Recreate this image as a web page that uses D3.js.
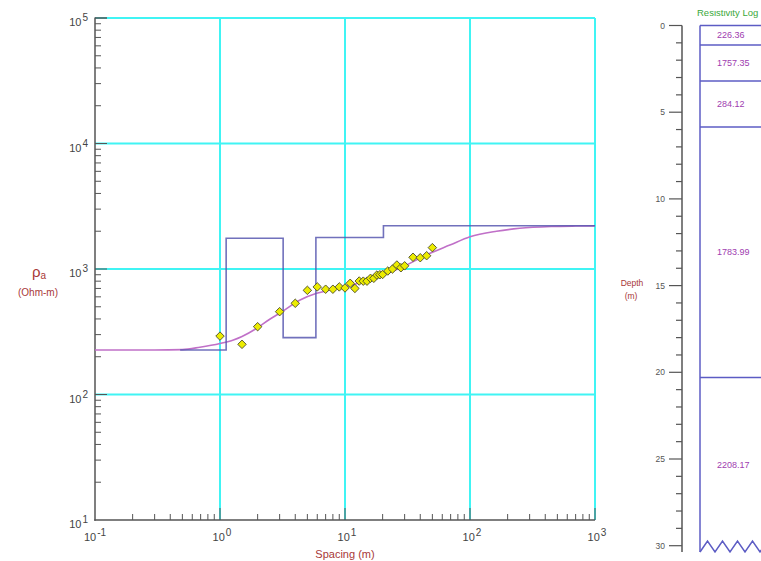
<!DOCTYPE html>
<html><head><meta charset="utf-8">
<script src="https://cdn.jsdelivr.net/npm/d3@7"></script>
<style>body{margin:0;background:#fff}svg{display:block}text{font-family:"Liberation Sans",Arial,sans-serif}</style>
</head><body><svg id="c" width="761" height="561"></svg>
<script>
// ---- data ----
const spacing = [1, 1.5, 2, 3, 4, 5, 6, 7, 8, 9, 10, 11, 12, 13, 14, 15, 16, 17, 18, 19, 20, 22, 24, 26, 28, 30, 35, 40, 45, 50];
const rhoObs  = [292, 251, 347, 457, 533, 676, 720, 690, 690, 720, 706, 769, 700, 802, 800, 800, 843, 843, 895, 900, 905, 964, 1000, 1076, 1023, 1060, 1240, 1230, 1276, 1480];
const curveS   = [0.1, 0.3, 0.5, 0.69, 1, 1.28, 1.5, 1.96, 2.5, 3, 4.37, 5.93, 7.6, 10, 15.8, 29, 47.9, 69, 100, 163, 250, 447, 700, 1000];
const curveRho = [226, 226, 228, 238, 255, 272, 290, 336, 398, 444, 566, 640, 681, 723, 817, 1042, 1333, 1550, 1806, 2000, 2110, 2180, 2200, 2208];
const layerRho   = [226.36, 1757.35, 284.12, 1783.99, 2208.17];
const layerDepth = [1.12, 3.2, 5.85, 20.3];   // bottom depths of layers 1-4
const xDecades = [-1, 0, 1, 2, 3];
const yDecades = [1, 2, 3, 4, 5];
const depthTicks = [0, 5, 10, 15, 20, 25, 30];

const svg = d3.select("#c");
const x = d3.scaleLog().domain([0.1, 1000]).range([95, 595]);
const y = d3.scaleLog().domain([10, 1e5]).range([520, 18]);

// grid
const g = svg.append("g");
const cyan = "#40f4f4";
xDecades.slice(1).forEach(e => g.append("line").attr("x1", x(10**e)).attr("x2", x(10**e)).attr("y1", y(1e5)).attr("y2", y(10)).attr("stroke", cyan).attr("stroke-width", 2));
yDecades.slice(1).forEach(e => g.append("line").attr("x1", x(0.1)).attr("x2", x(1000)).attr("y1", y(10**e)).attr("y2", y(10**e)).attr("stroke", cyan).attr("stroke-width", 2));

// axes (ticks inward)
const axCol = "#555";
const ax = svg.append("g");
ax.append("line").attr("x1", x(0.1)).attr("x2", x(0.1)).attr("y1", y(1e5)-0.5).attr("y2", y(10)+0.75).attr("stroke", axCol).attr("stroke-width", 1.5);
ax.append("line").attr("x1", x(0.1)-0.75).attr("x2", x(1000)).attr("y1", y(10)).attr("y2", y(10)).attr("stroke", axCol).attr("stroke-width", 1.5);
for (let e = 1; e < 5; e++) for (let m = 1; m < 10; m++) {
  const v = m * 10**e, L = m === 1 ? 12 : 6;
  if (m === 1 && e === 1) continue;
  ax.append("line").attr("x1", x(0.1)).attr("x2", x(0.1)+L).attr("y1", y(v)).attr("y2", y(v)).attr("stroke", axCol).attr("stroke-width", 1);
}
ax.append("line").attr("x1", x(0.1)).attr("x2", x(0.1)+12).attr("y1", y(1e5)).attr("y2", y(1e5)).attr("stroke", axCol).attr("stroke-width", 1.5);
for (let e = -1; e < 3; e++) for (let m = 1; m < 10; m++) {
  const v = m * 10**e, L = m === 1 ? 12 : 6;
  if (m === 1 && e === -1) continue;
  ax.append("line").attr("x1", x(v)).attr("x2", x(v)).attr("y1", y(10)).attr("y2", y(10)-L).attr("stroke", axCol).attr("stroke-width", 1);
}
ax.append("line").attr("x1", x(1000)).attr("x2", x(1000)).attr("y1", y(10)).attr("y2", y(10)-12).attr("stroke", axCol).attr("stroke-width", 1);

// tick labels
function pow(parent, px, py, exp, anchor) {
  const t = parent.append("text").attr("x", px).attr("y", py).attr("fill", "#444").attr("font-size", 11).attr("text-anchor", anchor);
  t.append("tspan").text("10");
  t.append("tspan").attr("dy", -5).attr("dx", 1).attr("font-size", 10).text(exp);
}
yDecades.forEach(e => pow(svg, 88, y(10**e) + 8, String(e), "end"));
xDecades.forEach(e => pow(svg, x(10**e) + (e < 0 ? 0 : 2), 541, e < 0 ? "-1" : String(e), "middle"));

// axis titles
const red = "#a83838";
const yt = svg.append("text").attr("x", 39).attr("y", 277).attr("text-anchor", "middle").attr("fill", red).attr("font-size", 15);
yt.append("tspan").text("ρ");
yt.append("tspan").attr("font-size", 10).attr("dy", 2).text("a");
svg.append("text").attr("x", 38).attr("y", 296).attr("text-anchor", "middle").attr("fill", red).attr("font-size", 10).text("(Ohm-m)");
svg.append("text").attr("x", 345).attr("y", 558).attr("text-anchor", "middle").attr("fill", red).attr("font-size", 11).text("Spacing (m)");

// clip
svg.append("clipPath").attr("id", "pc").append("rect").attr("x", 95).attr("y", 17).attr("width", 501).attr("height", 504);
const plot = svg.append("g").attr("clip-path", "url(#pc)");

// calculated curve
const line = d3.line().x(d => x(d[0])).y(d => y(d[1])).curve(d3.curveMonotoneX);
plot.append("path").datum(curveS.map((s, i) => [s, curveRho[i]])).attr("d", line)
  .attr("fill", "none").attr("stroke", "#c070c8").attr("stroke-width", 1.6);

// model step line
const stepPts = [];
let start = 0.48;
layerRho.forEach((r, i) => {
  const end = i < layerDepth.length ? layerDepth[i] : 1000;
  stepPts.push([start, r], [end, r]);
  start = end;
});
plot.append("path").datum(stepPts).attr("d", d3.line().x(d => x(d[0])).y(d => y(d[1])))
  .attr("fill", "none").attr("stroke", "#5858b0").attr("stroke-width", 1.6).attr("stroke-opacity", 0.85);

// observed points
const sym = d3.symbol().type(d3.symbolDiamond2).size(46);
plot.selectAll("path.pt").data(spacing.map((s, i) => [s, rhoObs[i]])).join("path").attr("class", "pt")
  .attr("d", sym).attr("transform", d => `translate(${x(d[0])},${y(d[1])})`)
  .attr("fill", "#ecec00").attr("stroke", "#4a4a2a").attr("stroke-width", 0.9).attr("stroke-linejoin", "round");

// top border
svg.append("line").attr("x1", x(0.1)+12).attr("x2", x(1000)).attr("y1", y(1e5)).attr("y2", y(1e5)).attr("stroke", cyan).attr("stroke-width", 2);

// ---- right panel: resistivity log ----
const d = d3.scaleLinear().domain([0, 30]).range([25.5, 545.7]);
const rp = svg.append("g");
svg.append("clipPath").attr("id", "tc").append("rect").attr("x", 690).attr("y", 10).attr("width", 80).attr("height", 20);
rp.append("text").attr("x", 697).attr("y", 15.5).attr("fill", "#3aa83a").attr("font-size", 9.5).attr("clip-path", "url(#tc)").text("Resistivity Log");
rp.append("line").attr("x1", 682).attr("x2", 682).attr("y1", d(0)).attr("y2", 552).attr("stroke", axCol).attr("stroke-width", 1.5);
for (let k = 0; k <= 30; k++) {
  const L = k % 5 === 0 ? 13 : 6;
  rp.append("line").attr("x1", 682 - L).attr("x2", 682).attr("y1", d(k)).attr("y2", d(k)).attr("stroke", axCol).attr("stroke-width", 1.2);
}
depthTicks.forEach(t => rp.append("text").attr("x", 665).attr("y", d(t) + 3).attr("text-anchor", "end").attr("fill", "#555").attr("font-size", 8.5).text(t));
rp.append("text").attr("x", 632).attr("y", 286).attr("text-anchor", "middle").attr("fill", red).attr("font-size", 8.5).text("Depth");
rp.append("text").attr("x", 631).attr("y", 299).attr("text-anchor", "middle").attr("fill", red).attr("font-size", 8.5).text("(m)");

const boxCol = "#5c5cc4";
rp.append("line").attr("x1", 700).attr("x2", 700).attr("y1", d(0)).attr("y2", 552).attr("stroke", boxCol).attr("stroke-width", 1.5);
[0, ...layerDepth].forEach(z => rp.append("line").attr("x1", 700).attr("x2", 770).attr("y1", d(z)).attr("y2", d(z)).attr("stroke", boxCol).attr("stroke-width", 1.5));
// zigzag bottom
const zz = [];
for (let i = 0; i <= 12; i++) zz.push([700 + i * 7.5, i % 2 === 0 ? 552 : 541]);
rp.append("path").attr("d", d3.line()(zz)).attr("fill", "none").attr("stroke", boxCol).attr("stroke-width", 1.5);
const bounds = [0, ...layerDepth, 30.4];
layerRho.forEach((r, i) => {
  const mid = (d(bounds[i]) + d(bounds[i + 1])) / 2;
  rp.append("text").attr("x", 717).attr("y", mid + 3).attr("fill", "#a03cb0").attr("font-size", 9).text(r.toFixed(2));
});
</script></body></html>
